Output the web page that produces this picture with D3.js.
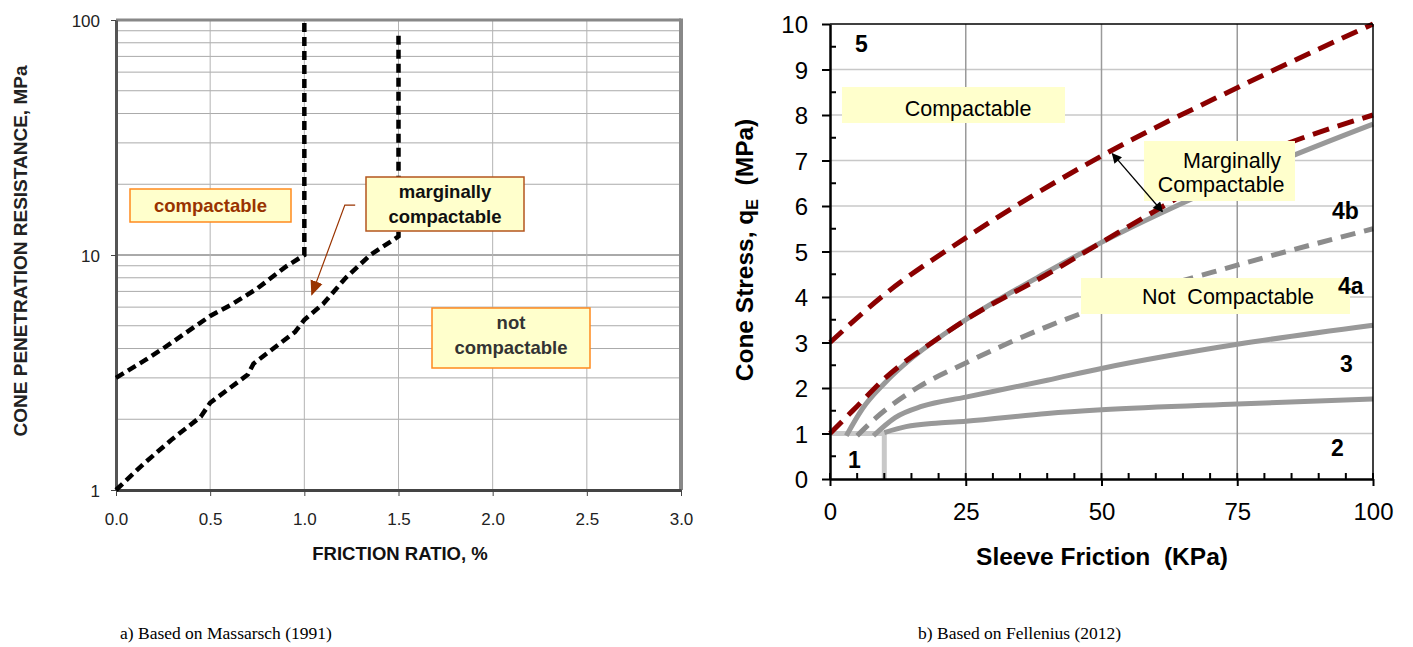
<!DOCTYPE html>
<html lang="en">
<head>
<meta charset="UTF-8">
<title>Compactability charts</title>
<script src="https://d3js.org/d3.v7.min.js"></script>
<style>
    body { margin: 0; background: #fff; }
    svg { display: block; font-family: Arial, "Liberation Sans", sans-serif; }
    .pre { white-space: pre; }
</style>
</head>
<body>
<svg width="1413" height="647"></svg>
<script>
    // ---- left chart (Massarsch 1991) ----
    const frictionTicks = [0.0, 0.5, 1.0, 1.5, 2.0, 2.5, 3.0];
    const coneTicks = [1, 10, 100];
    // upper boundary: compactable / marginally compactable
    const massarschUpper = [[0, 3], [0.15, 3.55], [0.25, 4.0], [0.5, 5.5], [0.62, 6.2], [0.75, 7.2], [0.9, 8.9], [1.0, 10], [1.0, 100]];
    // lower boundary: marginally / not compactable
    const massarschLower = [[0, 1], [0.15, 1.3], [0.3, 1.65], [0.45, 2.05], [0.5, 2.35], [0.7, 3.1], [0.73, 3.45], [0.95, 4.7],
        [1.0, 5.3], [1.1, 6.2], [1.22, 8.0], [1.35, 10], [1.5, 12], [1.5, 90]];

    // ---- right chart (Fellenius 2012) ----
    const sleeveTicks = [0, 25, 50, 75, 100];
    const stressTicks = [0, 1, 2, 3, 4, 5, 6, 7, 8, 9, 10];
    const redUpper = [[0, 3], [10, 4.05], [25, 5.3], [50, 7.1], [75, 8.6], [100, 10]];
    const redLower = [[0, 1], [5, 1.6], [10, 2.2], [20, 3.1], [25, 3.5], [40, 4.5], [50, 5.2], [60, 5.9], [75, 6.9], [100, 8.0]];
    const curve4b = [[3, 0.95], [6, 1.55], [10, 2.1], [15, 2.65], [20, 3.1], [25, 3.5], [40, 4.55], [50, 5.2], [75, 6.6], [100, 7.8]];
    const curve4a = [[5, 0.95], [8.5, 1.35], [16, 2.0], [25, 2.55], [40, 3.35], [50, 3.8], [75, 4.7], [100, 5.5]];
    const curve3 = [[8, 0.95], [12, 1.35], [17, 1.6], [25, 1.8], [40, 2.17], [50, 2.43], [75, 2.96], [100, 3.38]];
    const curve2 = [[10, 1.02], [14, 1.15], [20, 1.23], [25, 1.27], [40, 1.44], [50, 1.52], [75, 1.65], [100, 1.76]];
    const zone1Top = [[0, 1], [10, 1]];
    const zone1Side = [[10, 0], [10, 1]];

    const svg = d3.select("svg");
    const defs = svg.append("defs");

    // ================= LEFT =================
    const xL = d3.scaleLinear().domain([0, 3]).range([116, 681]);
    const yL = d3.scaleLog().domain([1, 100]).range([490, 20]);
    const left = svg.append("g");

    // grid
    const minorY = [];
    [1, 10].forEach(dec => d3.range(2, 10).forEach(m => minorY.push(dec * m)));
    left.append("g").selectAll("line").data(minorY).join("line")
        .attr("x1", xL(0)).attr("x2", xL(3))
        .attr("y1", d => yL(d)).attr("y2", d => yL(d))
        .attr("stroke", "#aaa").attr("stroke-width", 1);
    left.append("line")
        .attr("x1", xL(0)).attr("x2", xL(3)).attr("y1", yL(10)).attr("y2", yL(10))
        .attr("stroke", "#555").attr("stroke-width", 1);
    left.append("g").selectAll("line").data(frictionTicks.slice(1, -1)).join("line")
        .attr("x1", d => xL(d)).attr("x2", d => xL(d))
        .attr("y1", yL(100)).attr("y2", yL(1))
        .attr("stroke", "#b4b4b4").attr("stroke-width", 1);

    // frame
    left.append("line").attr("x1", xL(0)).attr("x2", xL(3)).attr("y1", yL(100)).attr("y2", yL(100))
        .attr("stroke", "#888").attr("stroke-width", 3);
    left.append("line").attr("x1", xL(3)).attr("x2", xL(3)).attr("y1", yL(100) - 1.5).attr("y2", yL(1))
        .attr("stroke", "#888").attr("stroke-width", 4);

    const axL = left.append("g").attr("transform", `translate(0,${yL(1)})`)
        .call(d3.axisBottom(xL).tickValues(frictionTicks).tickFormat(d3.format(".1f")).tickSize(6).tickSizeOuter(0));
    const ayL = left.append("g").attr("transform", `translate(${xL(0)},0)`)
        .call(d3.axisLeft(yL).tickValues(coneTicks).tickFormat(d3.format("d")).tickSize(5).tickSizeOuter(0));
    axL.select(".domain").attr("stroke", "#444").attr("stroke-width", 3);
    ayL.select(".domain").attr("stroke", "#555").attr("stroke-width", 3);
    [axL, ayL].forEach(a => {
        a.selectAll(".tick line").attr("stroke", "#444");
        a.selectAll("text").attr("font-size", 17).attr("fill", "#222").attr("font-family", "Arial, 'Liberation Sans', sans-serif");
    });
    axL.selectAll("text").attr("y", 35).attr("dy", 0);
    ayL.selectAll("text").attr("x", -16).attr("dy", 6.5);

    // boundary lines
    const lineL = d3.line().x(d => xL(d[0])).y(d => yL(d[1]));
    [massarschUpper, massarschLower].forEach(s => {
        left.append("path").attr("d", lineL(s))
            .attr("fill", "none").attr("stroke", "#000").attr("stroke-width", 4.5)
            .attr("stroke-dasharray", "9,5");
    });

    // arrow pointing at marginal zone
    defs.append("marker").attr("id", "brownHead").attr("viewBox", "0 0 10 10")
        .attr("refX", 9).attr("refY", 5).attr("markerWidth", 15).attr("markerHeight", 15)
        .attr("markerUnits", "userSpaceOnUse").attr("orient", "auto")
        .append("path").attr("d", "M0,0.8 L10,5 L0,9.2 z").attr("fill", "#993300");
    left.append("path")
        .attr("d", `M${xL(1.27)},${yL(16.3)} H${xL(1.215)} L${xL(1.04)},${yL(6.8)}`)
        .attr("fill", "none").attr("stroke", "#993300").attr("stroke-width", 1.2)
        .attr("marker-end", "url(#brownHead)");

    // labels
    function boxL(x0, x1, y0, y1, stroke, color, lines) {
        left.append("rect").attr("x", x0).attr("y", y0).attr("width", x1 - x0).attr("height", y1 - y0)
            .attr("fill", "#ffffcc").attr("stroke", stroke).attr("stroke-width", 1.5);
        lines.forEach(l => left.append("text").attr("x", (x0 + x1) / 2).attr("y", l[1])
            .attr("text-anchor", "middle").attr("font-size", 18.5).attr("font-weight", "bold")
            .attr("fill", color).text(l[0]));
    }
    boxL(130, 291, 189, 222, "#ff8a1e", "#993300", [["compactable", 212]]);
    boxL(366, 524, 177, 231, "#b4561e", "#111", [["marginally", 198], ["compactable", 223]]);
    boxL(432, 590, 308, 368, "#ff8a1e", "#333", [["not", 329], ["compactable", 354]]);

    left.append("text").attr("transform", "translate(27,251) rotate(-90)")
        .attr("text-anchor", "middle").attr("font-size", 19).attr("font-weight", "bold").attr("fill", "#222")
        .text("CONE PENETRATION RESISTANCE, MPa");
    left.append("text").attr("x", 400).attr("y", 560)
        .attr("text-anchor", "middle").attr("font-size", 18.5).attr("font-weight", "bold").attr("fill", "#111")
        .text("FRICTION RATIO, %");

    // ================= RIGHT =================
    const xR = d3.scaleLinear().domain([0, 100]).range([830, 1373]);
    const yR = d3.scaleLinear().domain([0, 10]).range([479, 24]);
    const right = svg.append("g");

    right.append("g").selectAll("line").data(stressTicks.slice(1, -1)).join("line")
        .attr("x1", xR(0)).attr("x2", xR(100)).attr("y1", d => yR(d)).attr("y2", d => yR(d))
        .attr("stroke", "#c8c8c8").attr("stroke-width", 1.5);
    right.append("g").selectAll("line").data(sleeveTicks.slice(1, -1)).join("line")
        .attr("x1", d => xR(d)).attr("x2", d => xR(d)).attr("y1", yR(10)).attr("y2", yR(0))
        .attr("stroke", "#9a9a9a").attr("stroke-width", 1.5);

    const lineR = d3.line().x(d => xR(d[0])).y(d => yR(d[1])).curve(d3.curveMonotoneX);
    const lineRlin = d3.line().x(d => xR(d[0])).y(d => yR(d[1]));

    right.append("path").attr("d", lineRlin(zone1Top)).attr("fill", "none")
        .attr("stroke", "#c8c8c8").attr("stroke-width", 5);
    right.append("path").attr("d", lineRlin(zone1Side)).attr("fill", "none")
        .attr("stroke", "#c8c8c8").attr("stroke-width", 5);
    [curve2, curve3, curve4b].forEach(s => right.append("path").attr("d", lineR(s))
        .attr("fill", "none").attr("stroke", "#999").attr("stroke-width", 5));
    right.append("path").attr("d", lineR(curve4a)).attr("fill", "none")
        .attr("stroke", "#8c8c8c").attr("stroke-width", 5).attr("stroke-dasharray", "15,9");
    [redUpper, redLower].forEach(s => right.append("path").attr("d", lineR(s))
        .attr("fill", "none").attr("stroke", "#8b0000").attr("stroke-width", 5).attr("stroke-dasharray", "17,9"));

    // frame + axes
    right.append("line").attr("x1", xR(0)).attr("x2", xR(100)).attr("y1", yR(10)).attr("y2", yR(10))
        .attr("stroke", "#000").attr("stroke-width", 1.5);
    right.append("line").attr("x1", xR(100)).attr("x2", xR(100)).attr("y1", yR(10)).attr("y2", yR(0))
        .attr("stroke", "#000").attr("stroke-width", 1.5);

    right.append("g").selectAll("line").data(d3.range(0, 101, 5)).join("line")
        .attr("x1", d => xR(d)).attr("x2", d => xR(d)).attr("y1", yR(0)).attr("y2", yR(0) - 6)
        .attr("stroke", "#000").attr("stroke-width", 2);
    right.append("g").selectAll("line").data(d3.range(0.5, 10, 1)).join("line")
        .attr("x1", xR(0)).attr("x2", xR(0) + 6).attr("y1", d => yR(d)).attr("y2", d => yR(d))
        .attr("stroke", "#000").attr("stroke-width", 2);

    const axR = right.append("g").attr("transform", `translate(0,${yR(0)})`)
        .call(d3.axisBottom(xR).tickValues(sleeveTicks).tickSize(7).tickSizeOuter(0));
    const ayR = right.append("g").attr("transform", `translate(${xR(0)},0)`)
        .call(d3.axisLeft(yR).tickValues(stressTicks).tickSize(8).tickSizeOuter(0));
    [axR, ayR].forEach(a => {
        a.select(".domain").attr("stroke", "#000").attr("stroke-width", 2.5);
        a.selectAll(".tick line").attr("stroke", "#000").attr("stroke-width", 2);
        a.selectAll("text").attr("font-size", 24).attr("fill", "#000").attr("font-family", "Arial, 'Liberation Sans', sans-serif");
    });
    axR.selectAll("text").attr("y", 41).attr("dy", 0);
    ayR.selectAll("text").attr("x", -22).attr("dy", 8.5);

    // zone boxes
    function boxR(x0, x1, y0, y1, lines) {
        right.append("rect").attr("x", x0).attr("y", y0).attr("width", x1 - x0).attr("height", y1 - y0)
            .attr("fill", "#ffffcc");
        lines.forEach(l => right.append("text").attr("class", "pre").attr("x", l[1]).attr("y", l[2])
            .attr("text-anchor", "middle").attr("font-size", 21.5).attr("fill", "#000").text(l[0]));
    }
    boxR(842, 1065, 87, 123, [["Compactable", 968, 116]]);
    boxR(1144, 1295, 141, 201, [["Marginally", 1232, 168], ["Compactable", 1221, 192]]);
    boxR(1081, 1350, 278, 314, [["Not  Compactable", 1228, 304]]);

    // double arrow between red lines
    defs.append("marker").attr("id", "blackHead").attr("viewBox", "0 0 10 10")
        .attr("refX", 9).attr("refY", 5).attr("markerWidth", 14).attr("markerHeight", 10)
        .attr("markerUnits", "userSpaceOnUse").attr("orient", "auto-start-reverse")
        .append("path").attr("d", "M0,0 L10,5 L0,10 z").attr("fill", "#000");
    right.append("line").attr("x1", xR(52)).attr("y1", yR(7.15)).attr("x2", xR(61.2)).attr("y2", yR(5.88))
        .attr("stroke", "#000").attr("stroke-width", 1.3)
        .attr("marker-start", "url(#blackHead)").attr("marker-end", "url(#blackHead)");

    // zone numbers
    const zoneLabels = [["5", 855, 52], ["4b", 1332, 219], ["4a", 1338, 294], ["3", 1340, 372], ["2", 1331, 456], ["1", 848, 468]];
    right.append("g").selectAll("text").data(zoneLabels).join("text")
        .attr("x", d => d[1]).attr("y", d => d[2]).attr("font-size", 23).attr("font-weight", "bold")
        .attr("fill", "#000").text(d => d[0]);

    right.append("text").attr("class", "pre").attr("x", 1102).attr("y", 565).attr("text-anchor", "middle")
        .attr("font-size", 24.5).attr("font-weight", "bold").text("Sleeve Friction  (KPa)");
    const yt = right.append("text").attr("class", "pre").attr("transform", "translate(753,250) rotate(-90)")
        .attr("text-anchor", "middle").attr("font-size", 24.5).attr("font-weight", "bold");
    yt.append("tspan").text("Cone Stress, q");
    yt.append("tspan").attr("font-size", 16).attr("dy", 5).text("E");
    yt.append("tspan").attr("dy", -5).text("  (MPa)");

    // captions
    svg.append("text").attr("x", 120).attr("y", 639).attr("font-family", "'Times New Roman', 'Liberation Serif', serif")
        .attr("font-size", 17.5).text("a) Based on Massarsch (1991)");
    svg.append("text").attr("x", 918).attr("y", 639).attr("font-family", "'Times New Roman', 'Liberation Serif', serif")
        .attr("font-size", 17.5).text("b) Based on Fellenius (2012)");
</script>
</body>
</html>
